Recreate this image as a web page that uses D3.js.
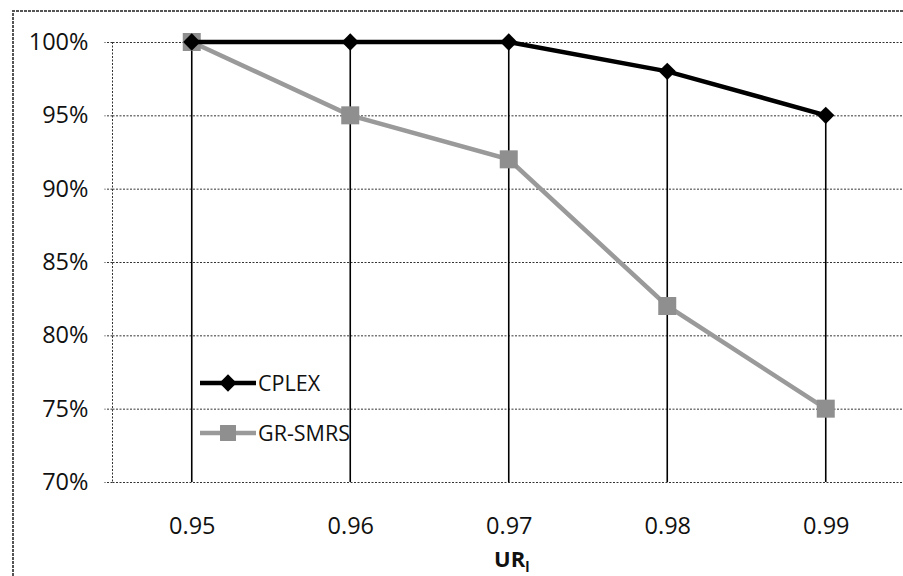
<!doctype html>
<html>
<head>
	<meta charset="utf-8">
	<title>CPLEX vs GR-SMRS</title>
	<script src="https://cdn.jsdelivr.net/npm/d3@7"></script>
	<style>
		body { margin: 0; background: #fff; }
		svg text { font-family: "Open Sans", sans-serif; fill: #111; }
		.grid line { stroke: #333; stroke-width: 1; stroke-dasharray: 2 1.5; }
		.grid path { display: none; }
	</style>
</head>
<body>
	<script>
		// data
		var categories = ['0.95', '0.96', '0.97', '0.98', '0.99'];
		var cplex = [1.00, 1.00, 1.00, 0.98, 0.95];
		var grsmrs = [1.00, 0.95, 0.92, 0.82, 0.75];
		var yTicks = [0.70, 0.75, 0.80, 0.85, 0.90, 0.95, 1.00];
		var seriesNames = ['CPLEX', 'GR-SMRS'];

		var width = 903, height = 576;
		var plotLeft = 112.5, plotTop = 42, plotW = 5 * 158.5, plotH = 440;

		var svg = d3.select('body').append('svg')
			.attr('width', width)
			.attr('height', height);

		// outer chart border (only top/left visible, rest is cut off)
		svg.append('path')
			.attr('d', 'M13,' + height + 'V11H' + width)
			.attr('fill', 'none')
			.attr('stroke', '#555')
			.attr('stroke-width', 2)
			.attr('stroke-dasharray', '3 1');

		var x = d3.scalePoint()
			.domain(categories)
			.range([plotLeft, plotLeft + plotW])
			.padding(0.5);

		var y = d3.scaleLinear()
			.domain([0.70, 1.00])
			.range([plotTop + plotH, plotTop]);

		// horizontal gridlines, with short outward ticks
		svg.append('g')
			.attr('class', 'grid')
			.attr('transform', 'translate(' + plotLeft + ',0)')
			.call(d3.axisLeft(y).tickValues(yTicks).tickSize(-plotW).tickFormat(''));
		svg.append('g')
			.attr('class', 'grid')
			.attr('transform', 'translate(' + plotLeft + ',0)')
			.call(d3.axisLeft(y).tickValues(yTicks).tickSize(8).tickFormat(''));

		// y axis labels
		svg.append('g')
			.attr('transform', 'translate(' + plotLeft + ',0)')
			.call(d3.axisLeft(y).tickValues(yTicks).tickSize(8).tickPadding(16).tickFormat(d3.format('.0%')))
			.call(function (g) {
				g.select('.domain').remove();
				g.selectAll('line').remove();
				g.selectAll('text').attr('font-size', 23.5).style('font-family', '"Open Sans", sans-serif');
			});

		// left axis line, dotted
		svg.append('line')
			.attr('x1', plotLeft).attr('x2', plotLeft)
			.attr('y1', y(1.00)).attr('y2', y(0.70))
			.attr('stroke', '#333')
			.attr('stroke-dasharray', '2 1.5');

		// x axis labels
		svg.append('g')
			.attr('transform', 'translate(0,' + y(0.70) + ')')
			.call(d3.axisBottom(x).tickSize(0).tickPadding(35))
			.call(function (g) {
				g.select('.domain').remove();
				g.selectAll('text').attr('font-size', 23.5).style('font-family', '"Open Sans", sans-serif');
			});

		// axis title UR_l
		var title = svg.append('text')
			.attr('x', x('0.97') + 3)
			.attr('y', 567)
			.attr('text-anchor', 'middle')
			.attr('font-size', 22)
			.attr('font-weight', 'bold');
		title.append('tspan').text('UR');
		title.append('tspan').attr('font-size', 14).attr('dy', 5).text('l');

		// drop lines from the highest point down to the axis
		svg.append('g')
			.selectAll('line')
			.data(categories)
			.enter()
			.append('line')
			.attr('x1', function (d) { return x(d); })
			.attr('x2', function (d) { return x(d); })
			.attr('y1', function (d, i) { return y(Math.max(cplex[i], grsmrs[i])); })
			.attr('y2', y(0.70))
			.attr('stroke', '#000')
			.attr('stroke-width', 1.6);

		var line = d3.line()
			.x(function (d, i) { return x(categories[i]); })
			.y(function (d) { return y(d); });

		// GR-SMRS: grey line with square markers
		svg.append('path')
			.datum(grsmrs)
			.attr('d', line)
			.attr('fill', 'none')
			.attr('stroke', '#9a9a9a')
			.attr('stroke-width', 4.5);
		svg.append('g')
			.selectAll('rect')
			.data(grsmrs)
			.enter()
			.append('rect')
			.attr('x', function (d, i) { return x(categories[i]) - 9; })
			.attr('y', function (d) { return y(d) - 9; })
			.attr('width', 18)
			.attr('height', 18)
			.attr('fill', '#8f8f8f');

		// CPLEX: black line with diamond markers
		var diamond = d3.symbol().type(d3.symbolDiamond2).size(190);
		svg.append('path')
			.datum(cplex)
			.attr('d', line)
			.attr('fill', 'none')
			.attr('stroke', '#000')
			.attr('stroke-width', 4.5);
		svg.append('g')
			.selectAll('path')
			.data(cplex)
			.enter()
			.append('path')
			.attr('d', diamond)
			.attr('transform', function (d, i) { return 'translate(' + x(categories[i]) + ',' + y(d) + ')'; })
			.attr('fill', '#000');

		// legend
		var legend = svg.append('g').attr('transform', 'translate(200,383)');
		var legendItems = legend.selectAll('g')
			.data(seriesNames)
			.enter()
			.append('g')
			.attr('transform', function (d, i) { return 'translate(0,' + (i * 50) + ')'; });
		legendItems.append('line')
			.attr('x1', 0).attr('x2', 56)
			.attr('stroke', function (d, i) { return i === 0 ? '#000' : '#9a9a9a'; })
			.attr('stroke-width', 4.5);
		legendItems.append('path')
			.attr('d', function (d, i) {
				return i === 0 ? diamond() : d3.symbol().type(d3.symbolSquare2).size(324)();
			})
			.attr('transform', 'translate(28,0)')
			.attr('fill', function (d, i) { return i === 0 ? '#000' : '#8f8f8f'; });
		legendItems.append('text')
			.attr('x', 58)
			.attr('dy', '0.35em')
			.attr('font-size', 21.5)
			.text(function (d) { return d; });
	</script>
</body>
</html>
